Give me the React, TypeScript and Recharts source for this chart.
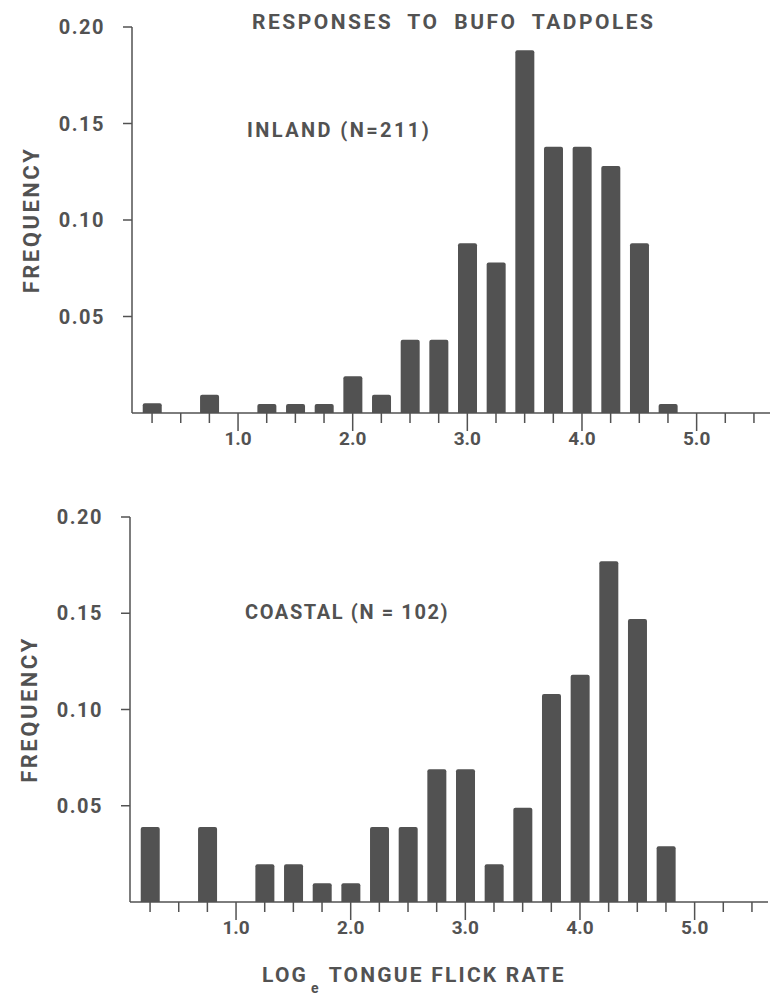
import React from "react";
import { Bar, BarChart, XAxis, YAxis } from "recharts";

// bin centres (log_e tongue flick rate)
const binCenters = [0.25, 0.5, 0.75, 1.0, 1.25, 1.5, 1.75, 2.0, 2.25, 2.5, 2.75, 3.0, 3.25, 3.5, 3.75, 4.0, 4.25, 4.5, 4.75];
const inlandFreq = [0.005, 0, 0.0095, 0, 0.0047, 0.0047, 0.0047, 0.019, 0.0095, 0.038, 0.038, 0.088, 0.078, 0.188, 0.138, 0.138, 0.128, 0.088, 0.0047];
const coastalFreq = [0.039, 0, 0.039, 0, 0.0196, 0.0196, 0.0098, 0.0098, 0.039, 0.039, 0.069, 0.069, 0.0196, 0.049, 0.108, 0.118, 0.177, 0.147, 0.029];
const xTicks = [0.25, 0.5, 0.75, 1.0, 1.25, 1.5, 1.75, 2.0, 2.25, 2.5, 2.75, 3.0, 3.25, 3.5, 3.75, 4.0, 4.25, 4.5, 4.75, 5.0, 5.25, 5.5];
const yTicks = [0.05, 0.1, 0.15, 0.2];

const INK = "#525252";
const FONT = "Roboto, 'DejaVu Sans', sans-serif";

const inlandData = binCenters.map((x, i) => ({ x, freq: inlandFreq[i] }));
const coastalData = binCenters.map((x, i) => ({ x, freq: coastalFreq[i] }));

const XTick = ({ x, y, payload }: any) => {
  const v = payload.value;
  const major = Math.abs(v - Math.round(v)) < 1e-6;
  return (
    <g>
      <line x1={x} x2={x} y1={y} y2={y + (major ? 18 : 10)} stroke={INK} strokeWidth={1.5} />
      {major && (
        <text x={x} y={y + 32} textAnchor="middle" fill={INK} fontSize={19} fontWeight={700} fontFamily={FONT}>
          {v.toFixed(1)}
        </text>
      )}
    </g>
  );
};

const YLabel = ({ viewBox }: any) => {
  const cx = viewBox.x + 9;
  const cy = viewBox.y + viewBox.height / 2;
  return (
    <text
      x={cx}
      y={cy}
      transform={`rotate(-90 ${cx} ${cy})`}
      textAnchor="middle"
      dominantBaseline="central"
      fill={INK}
      fontSize={22}
      fontWeight={700}
      fontFamily={FONT}
      letterSpacing={2.5}
    >
      FREQUENCY
    </text>
  );
};

function Histogram({ data, height, margin }: { data: any[]; height: number; margin: any }) {
  return (
    <BarChart width={778} height={height} data={data} margin={margin}>
      <XAxis
        dataKey="x"
        type="number"
        domain={[0.075, 5.64]}
        ticks={xTicks}
        interval={0}
        height={40}
        tickSize={0}
        tickMargin={0}
        tick={<XTick />}
        axisLine={{ stroke: INK, strokeWidth: 1.5 }}
        allowDataOverflow
      />
      <YAxis
        domain={[0, 0.2]}
        ticks={yTicks}
        width={110}
        tickSize={9}
        tickMargin={18}
        tickFormatter={(v: number) => v.toFixed(2)}
        tick={{ fill: INK, fontSize: 20, fontWeight: 700, fontFamily: FONT, letterSpacing: 1.5 }}
        tickLine={{ stroke: INK, strokeWidth: 1.5 }}
        axisLine={{ stroke: INK, strokeWidth: 1.5 }}
        label={(props: any) => <YLabel {...props} />}
      />
      <Bar dataKey="freq" barSize={19} fill={INK} radius={[2, 2, 0, 0]} isAnimationActive={false} />
    </BarChart>
  );
}

const textStyle: React.CSSProperties = {
  position: "absolute",
  whiteSpace: "nowrap",
  color: INK,
  fontFamily: FONT,
  fontWeight: 700,
  lineHeight: "20px",
};

export default function App() {
  return (
    <div style={{ position: "absolute", left: 0, top: 0, width: 778, height: 1003, background: "#fff", overflow: "hidden" }}>
      <div style={{ position: "absolute", left: 0, top: 0 }}>
        <Histogram data={inlandData} height={470} margin={{ top: 27, right: 8, left: 22, bottom: 17 }} />
      </div>
      <div style={{ position: "absolute", left: 0, top: 490 }}>
        <Histogram data={coastalData} height={513} margin={{ top: 27, right: 10, left: 20, bottom: 61 }} />
      </div>
      <div style={{ ...textStyle, left: 252, top: 12, fontSize: 21, letterSpacing: 2.5, wordSpacing: 7 }}>
        RESPONSES TO BUFO TADPOLES
      </div>
      <div style={{ ...textStyle, left: 247, top: 120, fontSize: 20, letterSpacing: 2.4 }}>INLAND (N=211)</div>
      <div style={{ ...textStyle, left: 245, top: 602, fontSize: 20, letterSpacing: 1.6 }}>COASTAL (N = 102)</div>
      <div style={{ ...textStyle, left: 262, top: 965, fontSize: 21, letterSpacing: 2.2 }}>
        LOG
        <sub style={{ fontSize: 14, verticalAlign: "-11px", letterSpacing: 0, margin: "0 10px 0 3px" }}>e</sub>
        TONGUE FLICK RATE
      </div>
    </div>
  );
}
